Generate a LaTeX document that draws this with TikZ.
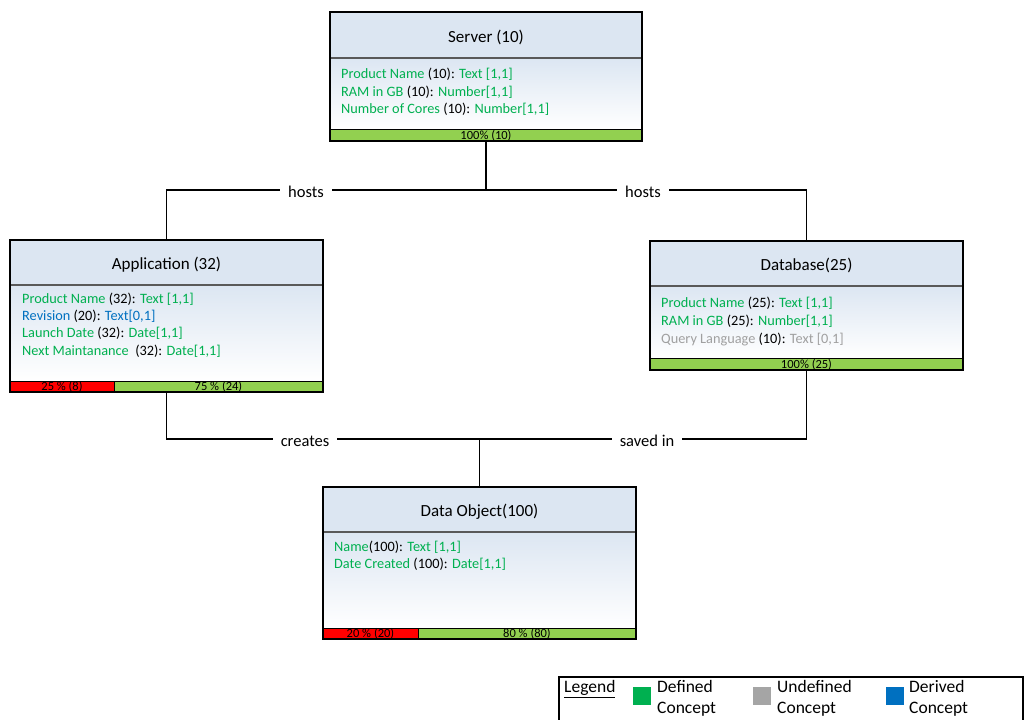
\documentclass[tikz,border=0pt]{standalone}
\usepackage{fontspec}
\setmainfont{Carlito}
\definecolor{hdr}{HTML}{DCE6F2}
\definecolor{defc}{HTML}{00B050}
\definecolor{derc}{HTML}{0070C0}
\definecolor{undc}{HTML}{A0A0A0}
\definecolor{undsq}{HTML}{A5A5A5}
\definecolor{okbar}{HTML}{92D050}
\definecolor{badbar}{HTML}{FF0000}
\definecolor{divc}{HTML}{595959}
\newcommand\dfn[1]{\textcolor{defc}{#1}}
\newcommand\drv[1]{\textcolor{derc}{#1}}
\newcommand\und[1]{\textcolor{undc}{#1}}
\tikzset{
  classbox/.style={draw=black, line width=1.4pt, inner sep=0pt, outer sep=0pt, rectangle},
  divline/.style={draw=divc, line width=1.3pt},
  barcell/.style={draw=black, line width=0.8pt},
  bartext/.style={font=\fontsize{12.5}{13}\selectfont, inner sep=0pt},
  classtitle/.style={font=\fontsize{17}{20}\selectfont, inner sep=0pt},
  attr/.style={font=\fontsize{14.3}{17}\selectfont, anchor=west, inner sep=0pt},
  conn/.style={draw=black, line width=1.1pt},
  rellabel/.style={font=\fontsize{16.5}{19}\selectfont, fill=white, inner xsep=8pt, inner ysep=2pt},
  legtext/.style={font=\fontsize{17.5}{21}\selectfont, align=left, anchor=north west, inner sep=0pt}
}
\begin{document}
\begin{tikzpicture}[x=1pt,y=-1pt]
\useasboundingbox[fill=white] (0,0) rectangle (1026,720);

% ---------- Server ----------
\fill[hdr] (330,12) rectangle (642,58);
\shade[top color=hdr, bottom color=white] (330,58) rectangle (642,129);
\draw[divline] (330,58) -- (642,58);
\draw[barcell, fill=okbar] (330,129) rectangle (642,141);
\node[bartext] (srvbar) at (486,135.5) {100\% (10)};
\node[classbox, minimum width=312pt, minimum height=129pt] (srv) at (486,76.5) {};
\node[classtitle] (srvt) at (486,37) {Server (10)};
\node[attr] (srva1) at (341,74) {\dfn{Product Name} (10): \dfn{Text [1,1]}};
\node[attr] (srva2) at (341,92) {\dfn{RAM in GB} (10): \dfn{Number[1,1]}};
\node[attr] (srva3) at (341,109) {\dfn{Number of Cores} (10): \dfn{Number[1,1]}};

% ---------- Application ----------
\fill[hdr] (10,240) rectangle (323,285);
\shade[top color=hdr, bottom color=white] (10,285) rectangle (323,381);
\draw[divline] (10,285) -- (323,285);
\draw[barcell, fill=badbar] (10,381) rectangle (114,392);
\draw[barcell, fill=okbar] (114,381) rectangle (323,392);
\node[bartext] (appbar1) at (62,387) {25 \% (8)};
\node[bartext] (appbar2) at (218.5,387) {75 \% (24)};
\node[classbox, minimum width=313pt, minimum height=152pt] (app) at (166.5,316) {};
\node[classtitle] (appt) at (166.5,265) {Application (32)};
\node[attr] (appa1) at (22,299) {\dfn{Product Name} (32): \dfn{Text [1,1]}};
\node[attr] (appa2) at (22,316) {\drv{Revision} (20): \drv{Text[0,1]}};
\node[attr] (appa3) at (22,333) {\dfn{Launch Date} (32): \dfn{Date[1,1]}};
\node[attr] (appa4) at (22,351) {\dfn{Next Maintanance}\ \ (32): \dfn{Date[1,1]}};

% ---------- Database ----------
\fill[hdr] (650,241) rectangle (963,286);
\shade[top color=hdr, bottom color=white] (650,286) rectangle (963,358);
\draw[divline] (650,286) -- (963,286);
\draw[barcell, fill=okbar] (650,358) rectangle (963,370);
\node[bartext] (dbbar) at (806.5,364.5) {100\% (25)};
\node[classbox, minimum width=313pt, minimum height=129pt] (db) at (806.5,305.5) {};
\node[classtitle] (dbt) at (806.5,265) {Database(25)};
\node[attr] (dba1) at (661,303) {\dfn{Product Name} (25): \dfn{Text [1,1]}};
\node[attr] (dba2) at (661,321) {\dfn{RAM in GB} (25): \dfn{Number[1,1]}};
\node[attr] (dba3) at (661,339) {\und{Query Language} (10): \und{Text [0,1]}};

% ---------- Data Object ----------
\fill[hdr] (323,487) rectangle (636,532);
\shade[top color=hdr, bottom color=white] (323,532) rectangle (636,628);
\draw[divline] (323,532) -- (636,532);
\draw[barcell, fill=badbar] (323,628) rectangle (418,639);
\draw[barcell, fill=okbar] (418,628) rectangle (636,639);
\node[bartext] (dobar1) at (370.5,634) {20 \% (20)};
\node[bartext] (dobar2) at (527,634) {80 \% (80)};
\node[classbox, minimum width=313pt, minimum height=152pt] (dob) at (479.5,563) {};
\node[classtitle] (dobt) at (479.5,512) {Data Object(100)};
\node[attr] (doba1) at (334,547) {\dfn{Name}(100): \dfn{Text [1,1]}};
\node[attr] (doba2) at (334,564) {\dfn{Date Created} (100): \dfn{Date[1,1]}};

% ---------- Relations ----------
\coordinate (hostsj) at (486,190);
\coordinate (dataj) at (479.5,439);
\draw[conn] (srv.south) -- (hostsj);
\draw[conn] (app.north) |- (hostsj) -| (db.north);
\draw[conn] (app.south) |- (dataj) -| (db.south);
\draw[conn] (dataj) -- (dob.north);
\node[rellabel] (lh1) at (306,192) {hosts};
\node[rellabel] (lh2) at (643,192) {hosts};
\node[rellabel] (lc) at (305,441) {creates};
\node[rellabel] (ls) at (647,441) {saved in};

% ---------- Legend ----------
\draw[line width=1.1pt] (559,722) -- (559,677) -- (1023,677) -- (1023,722);
\node[legtext, anchor=west] (legt) at (564,689) {\underline{Legend}};
\fill[defc] (633,687) rectangle (651,705);
\fill[undsq] (753,687) rectangle (771,705);
\fill[derc] (886,687) rectangle (904,705);
\node[legtext] (leg1) at (657,680) {Defined\\Concept};
\node[legtext] (leg2) at (777,680) {Undefined\\Concept};
\node[legtext] (leg3) at (909,680) {Derived\\Concept};
\end{tikzpicture}
\end{document}
